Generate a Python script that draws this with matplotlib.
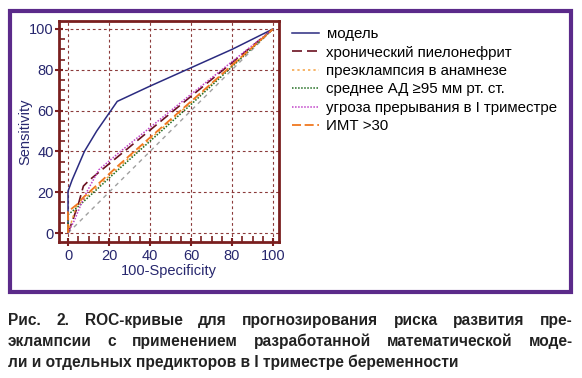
import matplotlib
matplotlib.use('Agg')
import matplotlib.pyplot as plt
from matplotlib.patches import Rectangle
from matplotlib.ticker import MultipleLocator

# ROC curves, points (x = 100-Specificity, y = Sensitivity)
model_x = [0, 0, 2, 8, 14, 24, 40, 60, 80, 100]
model_y = [0, 20.5, 26, 40, 50, 64.5, 72, 81, 90, 100]

pyelo_x = [0, 5, 7.5, 10.5, 25, 60, 100]
pyelo_y = [0, 14, 23, 26, 38, 67, 100]

preecl_x = [0, 4, 25, 60, 100]
preecl_y = [0, 13, 32.5, 64, 100]

bp_x = [0, 0, 5, 25, 60, 100]
bp_y = [0, 9, 13, 31.5, 63, 100]

threat_x = [0, 3, 8, 15, 25, 60, 100]
threat_y = [0, 6, 18, 31, 39.5, 68, 100]

bmi_x = [0, 0, 5, 7, 25, 60, 100]
bmi_y = [0, 10.5, 14.5, 17, 33.5, 64.5, 100]

labels = ['модель', 'хронический пиелонефрит', 'преэклампсия в анамнезе',
          'среднее АД ≥95 мм рт. ст.', 'угроза прерывания в I триместре', 'ИМТ >30']

caption_lines = ['Рис. 2. ROC-кривые для прогнозирования риска развития пре-',
                 'эклампсии с применением разработанной математической моде-',
                 'ли и отдельных предикторов в I триместре беременности']

W, H = 582, 378
plt.rcParams['font.family'] = ['Liberation Sans', 'DejaVu Sans']
fig = plt.figure(figsize=(W / 100, H / 100), dpi=100)

# purple frame round the chart panel
fig.patches.append(Rectangle((10 / W, 1 - 292 / H), 561 / W, 281.5 / H,
                             transform=fig.transFigure, fill=False,
                             edgecolor='#5b2a8a', linewidth=3))

ax = fig.add_axes([59 / W, 1 - 242 / H, 220 / W, 221 / H])
frame_col = '#7a1f1f'
navy = '#27276e'

ax.plot([0, 100], [0, 100], color='#a0a0a0', lw=1.0, ls=(0, (3, 3)))
l1, = ax.plot(model_x, model_y, color='#2b2b80', lw=1.1)
l2, = ax.plot(pyelo_x, pyelo_y, color='#6b1020', lw=1.2, ls=(0, (6, 3)))
l3, = ax.plot(preecl_x, preecl_y, color='#f5a040', lw=1.1, ls=(0, (1.5, 2)))
l4, = ax.plot(bp_x, bp_y, color='#1e6b1e', lw=1.1, ls=(0, (1, 1)))
l5, = ax.plot(threat_x, threat_y, color='#c040c8', lw=1.1, ls=(0, (1, 1)))
l6, = ax.plot(bmi_x, bmi_y, color='#f07820', lw=1.3, ls=(0, (5, 2)))

ax.set_xlim(-4.4, 102.9)
ax.set_ylim(-4.4, 103.9)
ax.xaxis.set_major_locator(MultipleLocator(20))
ax.yaxis.set_major_locator(MultipleLocator(20))
ax.xaxis.set_minor_locator(MultipleLocator(5))
ax.yaxis.set_minor_locator(MultipleLocator(5))
ax.grid(True, which='major', color='#8b3a3a', lw=0.8, ls=(0, (2.5, 2.5)))
for s in ax.spines.values():
    s.set_color(frame_col)
    s.set_linewidth(2)
ax.tick_params(which='major', direction='inout', length=6, width=1.5,
               color=frame_col, labelcolor=navy, labelsize=10.5)
ax.tick_params(axis='y', which='major', pad=0.8)
ax.tick_params(axis='x', which='major', pad=2)
ax.tick_params(which='minor', direction='in', length=4, width=1.2, color=frame_col)
ax.set_xlabel('100-Specificity', color=navy, fontsize=10.5, labelpad=1)
ax.set_ylabel('Sensitivity', color=navy, fontsize=10.5, labelpad=-2)

fig.legend([l1, l2, l3, l4, l5, l6], labels, loc='upper left',
           bbox_to_anchor=(292 / W, 1 - 27 / H), frameon=False, fontsize=10.8,
           handlelength=1.8, handletextpad=0.5, labelspacing=0.3,
           borderaxespad=0, borderpad=0)

# justified bold caption (words placed on a common baseline)
renderer = fig.canvas.get_renderer()
left, right = 8, 573
baselines = [325, 346, 367]
for i, line in enumerate(caption_lines):
    words = line.split(' ')
    if i == len(caption_lines) - 1:
        fig.text(left / W, 1 - baselines[i] / H, line, fontsize=11.2, fontweight='bold',
                 color='#222222', va='baseline', ha='left')
        continue
    texts = [fig.text(0, 1 - baselines[i] / H, w, fontsize=11.2, fontweight='bold',
                      color='#222222', va='baseline', ha='left')
             for w in words]
    widths = [t.get_window_extent(renderer).width for t in texts]
    gap = (right - left - sum(widths)) / (len(words) - 1)
    x = left
    for t, w in zip(texts, widths):
        t.set_x(x / W)
        x += w + gap

fig.savefig('out.png', dpi=100)
